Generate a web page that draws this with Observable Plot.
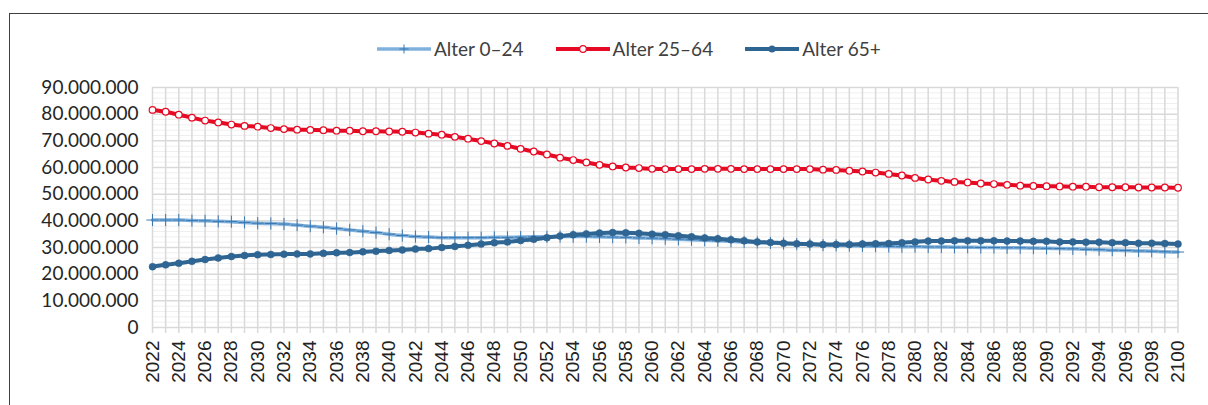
<!DOCTYPE html>
<html>
<head>
<meta charset="utf-8">
<script src="https://cdn.jsdelivr.net/npm/d3@7"></script>
<script src="https://cdn.jsdelivr.net/npm/@observablehq/plot@0.6"></script>
<style>
  html, body { margin: 0; padding: 0; background: #fff; }
  #wrap { position: relative; width: 1208px; height: 405px; overflow: hidden; font-family: Lato, "Noto Sans", sans-serif; }
  #frame { position: absolute; left: 8.5px; top: 13px; width: 1400px; height: 600px; border-left: 1px solid #3f3f3f; border-top: 1px solid #3f3f3f; box-sizing: border-box; }
  #chart { position: absolute; left: 0; top: 0; }
  #legend { position: absolute; left: 377px; top: 39px; display: flex; align-items: center; font-size: 19px; color: #404040; white-space: nowrap; }
  .item { display: flex; align-items: center; margin-right: 32px; }
  .item span { margin-left: 3px; line-height: 20px; }
</style>
</head>
<body>
<div id="wrap">
  <div id="frame"></div>
  <div id="chart"></div>
  <div id="legend"></div>
</div>
<script>
// Years (x categories)
const years = d3.range(2022, 2101);
const labelYears = d3.range(2022, 2101, 2);

// Series (millions of people)
const seriesNames = ["Alter 0–24", "Alter 25–64", "Alter 65+"];

const age0_24 = [
  40.3, 40.3, 40.3, 40.1, 40.0, 39.8, 39.7, 39.4, 39.1,
  39.0, 38.8, 38.4, 38.0, 37.6, 37.1, 36.6, 36.1, 35.6, 35.0,
  34.5, 34.1, 33.9, 33.7, 33.7, 33.7, 33.7, 33.8, 33.8, 33.9,
  34.0, 34.0, 34.1, 34.1, 34.1, 34.0, 33.9, 33.8, 33.6, 33.5,
  33.3, 33.1, 32.9, 32.7, 32.5, 32.3, 32.1, 31.9, 31.7, 31.5,
  31.3, 31.1, 30.9, 30.8, 30.7, 30.6, 30.5, 30.4, 30.3, 30.3,
  30.2, 30.2, 30.1, 30.1, 30.0, 30.0, 29.9, 29.9, 29.8, 29.7,
  29.6, 29.5, 29.3, 29.2, 29.0, 28.9, 28.7, 28.6, 28.4, 28.3
];

const age25_64 = [
  81.6, 80.9, 79.8, 78.7, 77.6, 76.9, 76.1, 75.6, 75.3,
  74.8, 74.4, 74.2, 74.1, 74.0, 73.8, 73.8, 73.6, 73.6, 73.5,
  73.4, 73.1, 72.7, 72.3, 71.5, 70.8, 69.9, 69.0, 68.1, 67.0,
  66.0, 64.9, 63.7, 62.8, 61.9, 61.0, 60.4, 60.0, 59.8, 59.5,
  59.4, 59.4, 59.4, 59.5, 59.5, 59.5, 59.4, 59.4, 59.4, 59.4,
  59.4, 59.4, 59.2, 59.1, 58.8, 58.5, 58.1, 57.6, 57.0, 56.1,
  55.5, 55.0, 54.6, 54.4, 54.0, 53.8, 53.5, 53.2, 53.1, 53.0,
  52.9, 52.8, 52.8, 52.6, 52.6, 52.6, 52.5, 52.5, 52.5, 52.4
];

const age65plus = [
  22.8, 23.5, 24.1, 24.8, 25.5, 26.1, 26.6, 27.0, 27.3,
  27.4, 27.5, 27.6, 27.6, 27.8, 28.0, 28.1, 28.4, 28.6, 28.9,
  29.1, 29.4, 29.6, 30.0, 30.4, 30.8, 31.3, 31.8, 32.1, 32.6,
  33.1, 33.7, 34.3, 34.8, 35.1, 35.4, 35.6, 35.5, 35.3, 35.0,
  34.8, 34.4, 34.0, 33.6, 33.3, 32.9, 32.5, 32.1, 31.9, 31.6,
  31.4, 31.3, 31.1, 31.1, 31.1, 31.3, 31.4, 31.5, 31.8, 32.1,
  32.4, 32.4, 32.5, 32.5, 32.5, 32.5, 32.4, 32.4, 32.3, 32.3,
  32.1, 32.1, 32.0, 32.0, 31.8, 31.8, 31.6, 31.6, 31.5, 31.3
];

const yTicks = d3.range(0, 91, 10);
const yMinor = d3.range(0, 91, 2).filter(d => d % 10 !== 0);

const colLight = "#7fb1dc", colLightMark = "#3b78b0";
const colRed = "#e60a24";
const colDark = "#2e6593";

const fmt = d3.formatLocale({decimal: ",", thousands: ".", grouping: [3], currency: ["", "€"]}).format(",");

const rows = vals => years.map((year, i) => ({year, v: vals[i]}));
const d1 = rows(age0_24), d2 = rows(age25_64), d3r = rows(age65plus);

const chart = Plot.plot({
  width: 1208,
  height: 405,
  marginLeft: 152,
  marginRight: 30.5,
  marginTop: 87,
  marginBottom: 78,
  x: {domain: [2022, 2100]},
  y: {domain: [0, 90]},
  style: {background: "transparent", fontFamily: "Lato, sans-serif", overflow: "visible"},
  marks: [
    Plot.gridY(yMinor, {stroke: "#efefef", strokeOpacity: 1, strokeWidth: 1}),
    Plot.gridX(years, {stroke: "#d9d9d9", strokeOpacity: 1, strokeWidth: 1.5}),
    Plot.gridY(yTicks, {stroke: "#d9d9d9", strokeOpacity: 1, strokeWidth: 1.5}),
    Plot.axisX(years, {fill: "none", tickSize: 6, stroke: "#d9d9d9", strokeWidth: 1.5, label: null}),
    Plot.axisX(labelYears, {stroke: "none", tickSize: 0, tickPadding: 13, tickRotate: -90,
      tickFormat: d => String(d), fontSize: 19, fontFamily: "Liberation Sans, Arial, sans-serif", fill: "#222", label: null}),
    Plot.axisY(yTicks, {stroke: "none", tickSize: 0, tickPadding: 14, tickFormat: d => fmt(d * 1e6),
      fontSize: 19, fill: "#262626", label: null}),
    // Alter 0–24
    Plot.line(d1, {x: "year", y: "v", stroke: colLight, strokeWidth: 3.5, curve: "monotone-x"}),
    Plot.dot(d1, {x: "year", y: "v", symbol: "plus", r: 4, stroke: colLightMark, strokeWidth: 1, fill: "none"}),
    // Alter 25–64
    Plot.line(d2, {x: "year", y: "v", stroke: colRed, strokeWidth: 4, curve: "monotone-x"}),
    Plot.dot(d2, {x: "year", y: "v", r: 3.3, stroke: colRed, strokeWidth: 1.2, fill: "#fff"}),
    // Alter 65+
    Plot.line(d3r, {x: "year", y: "v", stroke: colDark, strokeWidth: 4, curve: "monotone-x"}),
    Plot.dot(d3r, {x: "year", y: "v", r: 3.5, fill: colDark, stroke: colDark, strokeWidth: 0.5})
  ]
});
document.getElementById("chart").appendChild(chart);

// Legend
const legendDefs = [
  {name: seriesNames[0], line: colLight, w: 3.5, marker: "plus"},
  {name: seriesNames[1], line: colRed, w: 4, marker: "open"},
  {name: seriesNames[2], line: colDark, w: 4, marker: "filled"}
];
const legend = document.getElementById("legend");
for (const d of legendDefs) {
  const item = document.createElement("div");
  item.className = "item";
  let mk = "";
  if (d.marker === "plus") mk = `<path d="M27,2.5V11.5M22.5,7H31.5" stroke="${colLightMark}" stroke-width="1"/>`;
  if (d.marker === "open") mk = `<circle cx="27" cy="7" r="3.3" fill="#fff" stroke="${colRed}" stroke-width="1.2"/>`;
  if (d.marker === "filled") mk = `<circle cx="27" cy="7" r="3.5" fill="${colDark}"/>`;
  item.innerHTML = `<svg width="54" height="14"><line x1="0" y1="7" x2="54" y2="7" stroke="${d.line}" stroke-width="${d.w}"/>${mk}</svg><span>${d.name}</span>`;
  legend.appendChild(item);
}
</script>
</body>
</html>
